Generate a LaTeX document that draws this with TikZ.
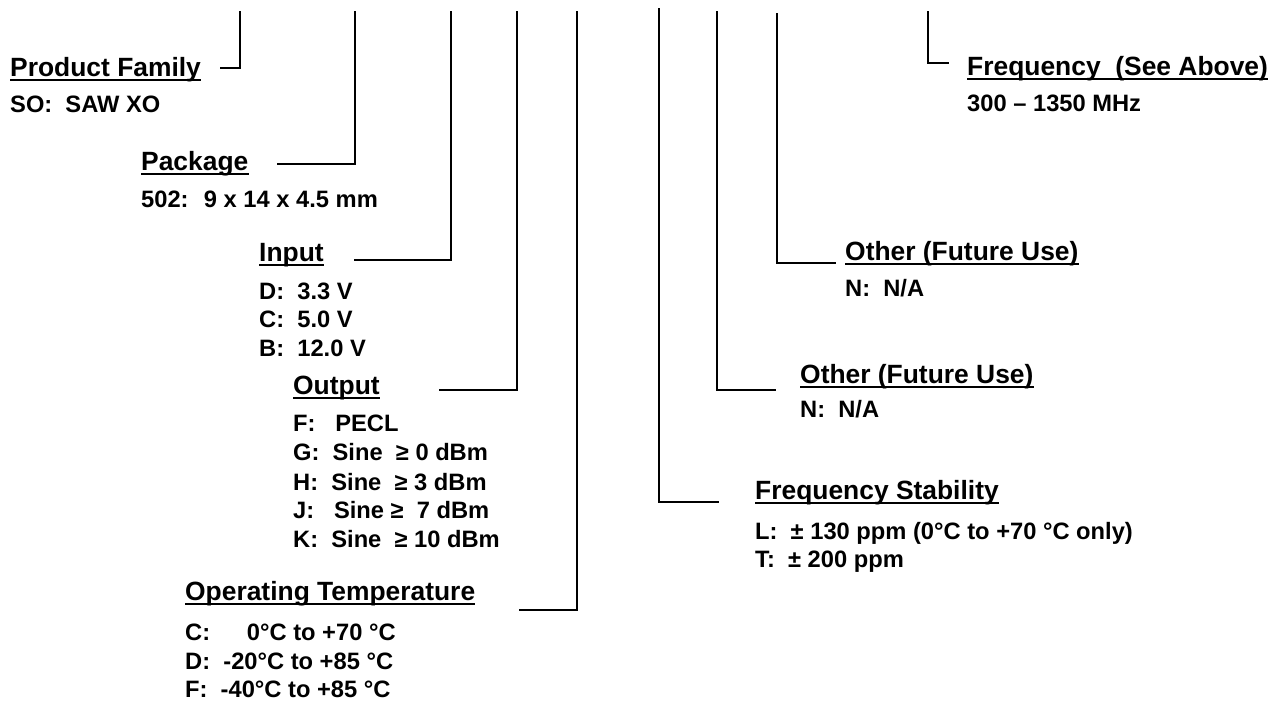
\documentclass[tikz,border=0pt]{standalone}
\usepackage{fontspec}
\setmainfont{Liberation Sans}
\newcommand\headfont{\fontsize{26.4}{30}\selectfont\bfseries}
\newcommand\bodyfont{\fontsize{23.7}{28}\selectfont\bfseries}
\tikzset{
  head/.style={font=\headfont, inner sep=0pt, anchor=base west},
  body/.style={font=\bodyfont, inner sep=0pt, anchor=base west},
  lead/.style={line width=1.6pt, line cap=rect},
  uline/.style={line width=2.4pt}
}
\newcommand\ul[1]{\draw[uline] ([yshift=-3.8pt]#1.base west) -- ([yshift=-3.8pt]#1.base east);}
\begin{document}
\begin{tikzpicture}[x=1pt,y=-1pt]
\useasboundingbox[fill=white] (0,0) rectangle (1281,702);

% Product family
\node[head] (pf) at (10,76) {Product Family}; \ul{pf}
\node[body] (pf1) at (10,112) {SO:~ SAW XO};
\coordinate (aT) at (240,12); \coordinate (aE) at (221,68);
\draw[lead] (aT) |- (aE);

% Package
\node[head] (pk) at (141,170) {Package}; \ul{pk}
\node[body] (pk1) at (141,207) {502:~ 9 x 14 x 4.5 mm};
\coordinate (bT) at (355,12); \coordinate (bE) at (278,164);
\draw[lead] (bT) |- (bE);

% Input
\node[head] (in) at (259,261) {Input}; \ul{in}
\node[body] (in1) at (259,299) {D:~ 3.3 V};
\node[body] (in2) at (259,327) {C:~ 5.0 V};
\node[body] (in3) at (259,356) {B:~ 12.0 V};
\coordinate (cT) at (451,12); \coordinate (cE) at (355,260);
\draw[lead] (cT) |- (cE);

% Output
\node[head] (out) at (293,394) {Output}; \ul{out}
\node[body] (out1) at (293,431) {F:~~ PECL};
\node[body] (out2) at (293,460) {G:~ Sine~ ≥ 0 dBm};
\node[body] (out3) at (293,490) {H:~ Sine~ ≥ 3 dBm};
\node[body] (out4) at (293,518) {J:~~ Sine ≥~ 7 dBm};
\node[body] (out5) at (293,547) {K:~ Sine~ ≥ 10 dBm};
\coordinate (dT) at (517,12); \coordinate (dE) at (440,390);
\draw[lead] (dT) |- (dE);

% Operating temperature
\node[head] (ot) at (185,600) {Operating Temperature}; \ul{ot}
\node[body] (ot1) at (185,640) {C:\hspace{1.55em}0°C to +70 °C};
\node[body] (ot2) at (185,669) {D:~ -20°C to +85 °C};
\node[body] (ot3) at (185,697) {F:~ -40°C to +85 °C};
\coordinate (eT) at (577,12); \coordinate (eE) at (520,610);
\draw[lead] (eT) |- (eE);

% Frequency stability
\node[head] (fs) at (755,499) {Frequency Stability}; \ul{fs}
\node[body] (fs1) at (755,539) {L:~ ± 130 ppm (0°C to +70 °C only)};
\node[body] (fs2) at (755,567) {T:~ ± 200 ppm};
\coordinate (fT) at (659,9); \coordinate (fE) at (718,502);
\draw[lead] (fT) |- (fE);

% Other (lower)
\node[head] (o2) at (800,383) {Other (Future Use)}; \ul{o2}
\node[body] (o21) at (800,417) {N:~ N/A};
\coordinate (gT) at (717,12); \coordinate (gE) at (775,390);
\draw[lead] (gT) |- (gE);

% Other (upper)
\node[head] (o1) at (845,260) {Other (Future Use)}; \ul{o1}
\node[body] (o11) at (845,296) {N:~ N/A};
\coordinate (hT) at (777,14); \coordinate (hE) at (835,263);
\draw[lead] (hT) |- (hE);

% Frequency
\node[head] (fq) at (967,75) {Frequency~ (See Above)}; \ul{fq}
\node[body] (fq1) at (967,111) {300 – 1350 MHz};
\coordinate (iT) at (928,12); \coordinate (iE) at (948,63);
\draw[lead] (iT) |- (iE);
\end{tikzpicture}
\end{document}
